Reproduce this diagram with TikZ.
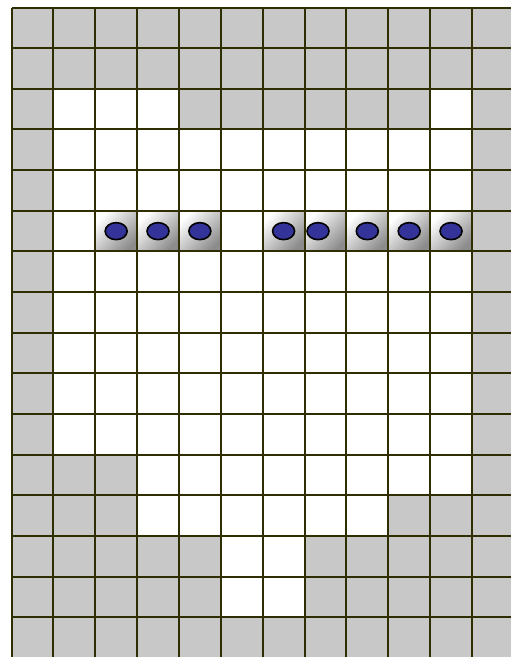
\documentclass[tikz,border=0pt]{standalone}
\usetikzlibrary{shapes.geometric}
\definecolor{gridline}{HTML}{2E2E00}
\definecolor{wallgray}{HTML}{C8C8C8}
\definecolor{ballblue}{HTML}{333399}
\definecolor{shadedark}{HTML}{8C8C8C}
\begin{document}
\begin{tikzpicture}[x=1pt,y=-1pt,
  ball/.style={ellipse,draw=black,line width=1.6pt,fill=ballblue,minimum width=22pt,minimum height=17pt,inner sep=0pt},
  shadecell/.style={shading=axis,top color=white,bottom color=shadedark,shading angle=45},
  gridstroke/.style={draw=gridline,line width=2pt}]
\useasboundingbox (0,0) rectangle (511,657);
\fill[white] (0,0) rectangle (511,657);
\def\cw{41.86}
\def\ch{40.66}
\def\ox{11.5}
\def\oy{7.5}
% gray background of the grid
\fill[wallgray] (\ox,\oy) rectangle (520,670);
% white open cells: {c1/c2/r1/r2}
\foreach \ca/\cb/\ra/\rb in {1/3/2/2, 10/10/2/2, 1/10/3/10, 3/10/11/11, 3/8/12/12, 5/6/13/14}{
  \fill[white] ({\ox+\ca*\cw},{\oy+\ra*\ch}) rectangle ({\ox+(\cb+1)*\cw},{\oy+(\rb+1)*\ch});
}
% shaded cells in row 5
\foreach \c in {2,3,4,6,7,8,9,10}{
  \shade[shadecell] ({\ox+\c*\cw},{\oy+5*\ch}) rectangle ({\ox+(\c+1)*\cw},{\oy+6*\ch});
}
% grid lines
\foreach \k in {0,...,12}{
  \draw[gridstroke] ({\ox+\k*\cw},\oy) -- ({\ox+\k*\cw},670);
}
\foreach \k in {0,...,16}{
  \draw[gridstroke] (\ox,{\oy+\k*\ch}) -- (520,{\oy+\k*\ch});
}
% balls
\foreach \c in {2,3,4,6,8,9,10}{
  \node[ball] (ball\c) at ({\ox+(\c+0.5)*\cw},{\oy+5.5*\ch}) {};
}
\node[ball] (ball7) at (318,{\oy+5.5*\ch}) {};
\end{tikzpicture}
\end{document}
